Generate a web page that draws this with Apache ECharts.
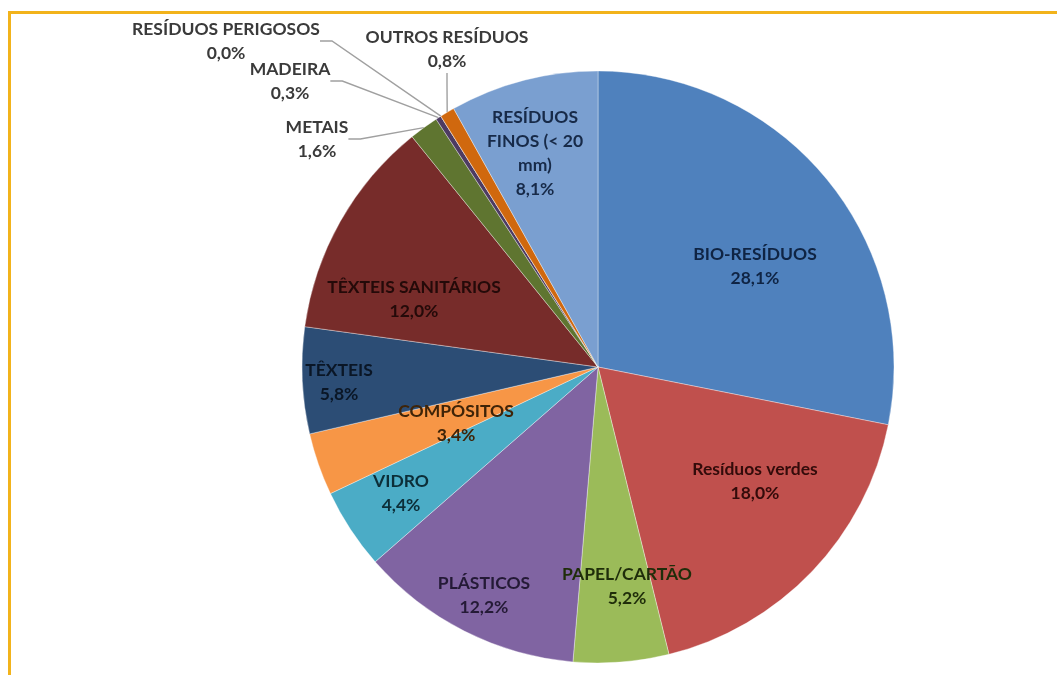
<!DOCTYPE html>
<html>
<head>
<meta charset="utf-8">
<script src="https://cdn.jsdelivr.net/npm/echarts@6/dist/echarts.min.js"></script>
<style>
  html, body { margin: 0; padding: 0; background: #ffffff; }
  #wrap { position: relative; width: 1057px; height: 675px; overflow: hidden; background: #ffffff; }
  #frame { position: absolute; left: 8px; top: 11px; width: 1100px; height: 700px;
           border-top: 3px solid #F2B31B; border-left: 3px solid #F2B31B; box-sizing: border-box; }
  #chart { position: absolute; left: 0; top: 0; width: 1057px; height: 675px; }
</style>
</head>
<body>
<div id="wrap">
  <div id="frame"></div>
  <div id="chart"></div>
</div>
<script>
// ---- data ----
const categories = [
  'BIO-RESÍDUOS', 'Resíduos verdes', 'PAPEL/CARTÃO', 'PLÁSTICOS', 'VIDRO',
  'COMPÓSITOS', 'TÊXTEIS', 'TÊXTEIS SANITÁRIOS', 'METAIS', 'MADEIRA',
  'RESÍDUOS PERIGOSOS', 'OUTROS RESÍDUOS', 'RESÍDUOS FINOS (< 20 mm)'
];
const values = [28.1, 18.0, 5.2, 12.2, 4.4, 3.4, 5.8, 12.0, 1.6, 0.3, 0.0, 0.8, 8.1];

// ---- styles ----
const sliceColors = ['#4F81BD', '#C0504D', '#9BBB59', '#8064A2', '#4BACC6', '#F79646',
  '#2C4D75', '#772C2A', '#5F7530', '#4D3B62', '#276A7C', '#D0680E', '#7A9FD0'];
const labelColors = ['#0f2444', '#330b0a', '#1f2d0a', '#241a36', '#0c2e38', '#3f2408',
  '#0a1626', '#240a09', '#3a3a3a', '#3a3a3a', '#3a3a3a', '#3a3a3a', '#172a48'];
const displayNames = {
  'RESÍDUOS FINOS (< 20 mm)': 'RESÍDUOS\nFINOS (< 20\nmm)'
};
const outsideSet = new Set(['METAIS', 'MADEIRA', 'RESÍDUOS PERIGOSOS', 'OUTROS RESÍDUOS']);
// label placement (text block centres, px)
const labelPos = {
  'BIO-RESÍDUOS': [755, 266],
  'Resíduos verdes': [755, 481],
  'PAPEL/CARTÃO': [627, 586],
  'PLÁSTICOS': [484, 595],
  'VIDRO': [401, 493],
  'COMPÓSITOS': [456, 423],
  'TÊXTEIS': [339, 382],
  'TÊXTEIS SANITÁRIOS': [414, 299],
  'METAIS': [317, 139],
  'MADEIRA': [290, 81],
  'RESÍDUOS PERIGOSOS': [226, 41],
  'OUTROS RESÍDUOS': [447, 49],
  'RESÍDUOS FINOS (< 20 mm)': [535, 153]
};

function fmt(v) { return v.toFixed(1).replace('.', ',') + '%'; }

const seriesData = categories.map((c, i) => ({
  name: c,
  value: values[i],
  itemStyle: { color: sliceColors[i] },
  label: {
    position: outsideSet.has(c) ? 'outside' : 'inside',
    color: labelColors[i]
  },
  labelLine: { show: outsideSet.has(c) }
}));

const chart = echarts.init(document.getElementById('chart'), null, { renderer: 'canvas' });
chart.setOption({
  backgroundColor: 'transparent',
  animation: false,
  series: [{
    type: 'pie',
    center: [598, 367],
    radius: 296,
    startAngle: 90,
    clockwise: true,
    avoidLabelOverlap: false,
    stillShowZeroSum: true,
    itemStyle: { borderColor: 'rgba(255,255,255,0.6)', borderWidth: 0.6 },
    label: {
      fontFamily: 'Lato',
      fontWeight: 'bold',
      fontSize: 17.5,
      lineHeight: 24,
      align: 'center',
      formatter: p => (displayNames[p.name] || p.name) + '\n' + fmt(p.value)
    },
    labelLine: {
      show: true,
      length: 20,
      length2: 12,
      lineStyle: { color: '#A0A0A0', width: 1.4 }
    },
    labelLayout: function (params) {
      const name = categories[params.dataIndex];
      const pos = labelPos[name];
      return { x: pos[0], y: pos[1], align: 'center', verticalAlign: 'middle' };
    },
    data: seriesData
  }]
});
</script>
</body>
</html>
